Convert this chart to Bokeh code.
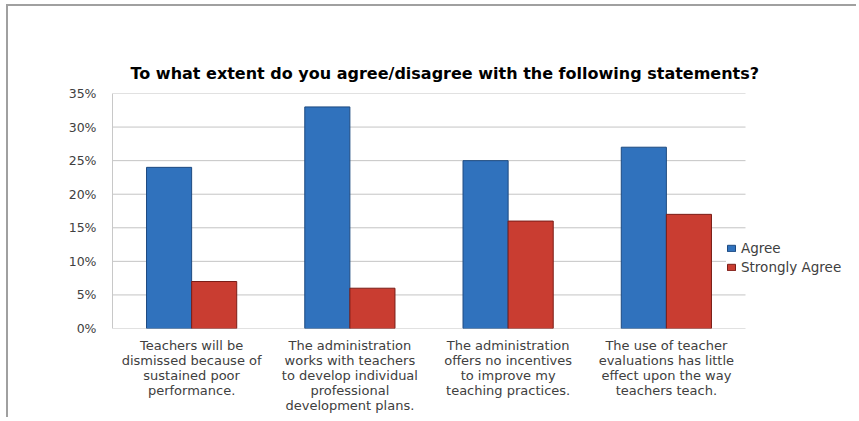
from bokeh.plotting import figure
from bokeh.models import ColumnDataSource, Range1d, Legend, LegendItem, NumeralTickFormatter, FixedTicker
from bokeh.embed import file_html
from bokeh.resources import INLINE

categories = [
    "Teachers will be\ndismissed because of\nsustained poor\nperformance.",
    "The administration\nworks with teachers\nto develop individual\nprofessional\ndevelopment plans.",
    "The administration\noffers no incentives\nto improve my\nteaching practices.",
    "The use of teacher\nevaluations has little\neffect upon the way\nteachers teach.",
]
agree = [0.24, 0.33, 0.25, 0.27]
strongly_agree = [0.07, 0.06, 0.16, 0.17]
y_ticks = [0, 0.05, 0.10, 0.15, 0.20, 0.25, 0.30, 0.35]
title_text = "To what extent do you agree/disagree with the following statements?"

n = len(categories)
pos = list(range(1, n + 1))
bw = 0.285
src = ColumnDataSource(dict(x=pos, agree=agree, sa=strongly_agree,
                            xa=[v - bw / 2 for v in pos], xs=[v + bw / 2 for v in pos]))

FIG_W, FIG_H = 850, 413
L, R, T, B = 104, 3, 87, 91
frame_w = FIG_W - L - R
cat_area_w = 633  # pixels covered by the categories (grid stops there)
x_end = 0.5 + n * frame_w / cat_area_w

p = figure(width=FIG_W, height=FIG_H, x_range=Range1d(0.5, x_end), y_range=Range1d(0, 0.35),
           output_backend="svg", toolbar_location=None, title=title_text)
p.min_border_left = L
p.min_border_right = R
p.min_border_top = T
p.min_border_bottom = B
p.outline_line_color = None
p.styles = {"border-left": "2px solid #a0a0a0", "border-top": "2px solid #a0a0a0",
            "margin-left": "6px", "margin-top": "4px"}

p.title.text_font = "DejaVu Sans"
p.title.text_font_size = "16px"
p.title.text_font_style = "bold"
p.title.text_color = "#000000"
p.title.align = "left"
p.title.offset = 18
p.title.standoff = 22

# gridlines limited to the category area
grid_src = ColumnDataSource(dict(y=y_ticks, x0=[0.5] * len(y_ticks), x1=[n + 0.5] * len(y_ticks)))
p.segment(x0="x0", y0="y", x1="x1", y1="y", source=grid_src, line_color="#c4c4c4", line_width=1)

r1 = p.vbar(x="xa", top="agree", width=bw, source=src,
            fill_color="#3072bd", line_color="#1d4a80", line_width=1)
r2 = p.vbar(x="xs", top="sa", width=bw, source=src,
            fill_color="#c93d31", line_color="#7a1d17", line_width=1)

p.yaxis.ticker = FixedTicker(ticks=y_ticks)
p.yaxis.formatter = NumeralTickFormatter(format="0%")
p.yaxis.major_tick_line_color = None
p.yaxis.minor_tick_line_color = None
p.yaxis.axis_line_color = "#c8c8c8"
p.yaxis.major_label_text_font = "DejaVu Sans"
p.yaxis.major_label_text_font_size = "12.5px"
p.yaxis.major_label_text_color = "#404040"
p.yaxis.major_label_standoff = 10

p.xaxis.ticker = FixedTicker(ticks=pos)
p.xaxis.major_label_overrides = {v: c for v, c in zip(pos, categories)}
p.xaxis.major_tick_line_color = None
p.xaxis.minor_tick_line_color = None
p.xaxis.axis_line_color = None
p.xaxis.major_label_text_font = "DejaVu Sans"
p.xaxis.major_label_text_font_size = "13px"
p.xaxis.major_label_text_line_height = 1.0
p.xaxis.major_label_text_color = "#404040"
p.xaxis.major_label_standoff = 3

p.xgrid.grid_line_color = None
p.ygrid.grid_line_color = None

legend = Legend(items=[LegendItem(label="Agree", renderers=[r1]),
                       LegendItem(label="Strongly Agree", renderers=[r2])],
                location=(614, 53), orientation="vertical")
legend.label_text_font = "DejaVu Sans"
legend.label_text_font_size = "13.5px"
legend.label_text_color = "#404040"
legend.glyph_width = 10
legend.glyph_height = 8
legend.label_standoff = 5
legend.spacing = 3
legend.padding = 2
legend.margin = 0
legend.border_line_color = None
legend.background_fill_alpha = 1.0
p.add_layout(legend, "center")

open("out.html", "w").write(file_html(p, INLINE))
